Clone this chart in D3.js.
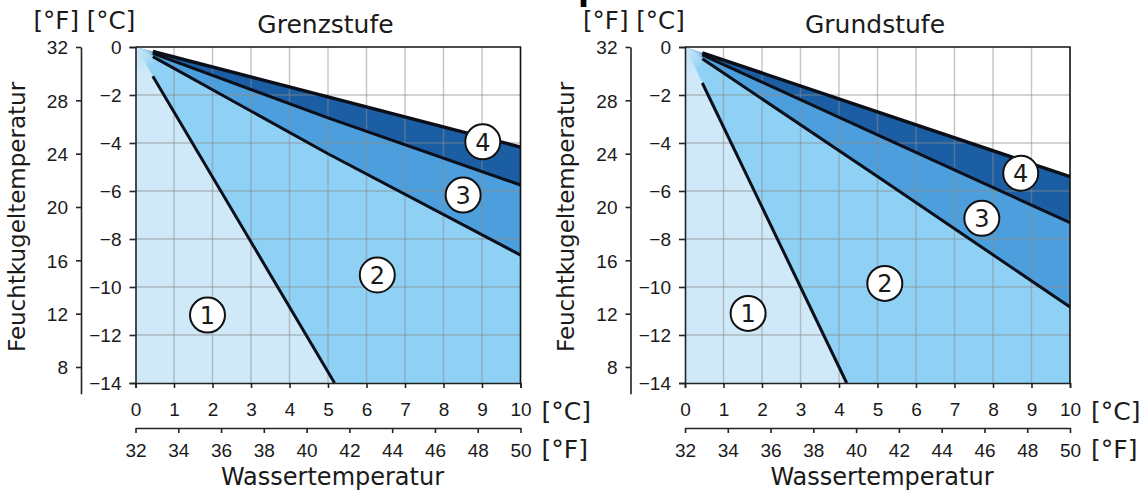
<!DOCTYPE html>
<html>
<head>
<meta charset="utf-8">
<script src="https://cdn.jsdelivr.net/npm/d3@7"></script>
<style>
  html, body { margin: 0; padding: 0; background: #fff; }
  svg { display: block; }
</style>
</head>
<body>
<svg id="chart" width="1139" height="492"></svg>
<script>
// ---------- data ----------
const panelTitles = ["Grenzstufe", "Grundstufe"];
const waterTicksC = [0, 1, 2, 3, 4, 5, 6, 7, 8, 9, 10];
const waterTicksF = [32, 34, 36, 38, 40, 42, 44, 46, 48, 50];
const wetTicksC = [0, -2, -4, -6, -8, -10, -12, -14];
const wetTicksF = [32, 28, 24, 20, 16, 12, 8];
const zoneLabels = ["1", "2", "3", "4"];

// boundary curves sampled at these water temperatures (°C)
const boundaryWater = [0, 5, 10];
// Grenzstufe
const grenzLine1End = 5.17;                 // water °C where boundary 1|2 hits -14 °C
const grenzLine2 = [0, -4.45, -8.67];       // boundary 2|3
const grenzLine3 = [0, -2.95, -5.75];       // boundary 3|4
const grenzLine4 = [0, -2.08, -4.17];       // upper edge of zone 4
const grenzLabelX = [1.87, 6.28, 8.51, 9.02];
const grenzLabelY = [-11.17, -9.5, -6.17, -3.95];
// Grundstufe
const grundLine1End = 4.2;
const grundLine2 = [0, -5.4, -10.83];
const grundLine3 = [0, -3.66, -7.32];
const grundLine4 = [0, -2.7, -5.4];
const grundLabelX = [1.64, 5.19, 7.71, 8.72];
const grundLabelY = [-11.1, -9.85, -7.14, -5.26];

const lineStartC = 0.45; // black boundary lines begin at this water temperature

const panelsData = [
  { title: panelTitles[0], l1: grenzLine1End, l2: grenzLine2, l3: grenzLine3, l4: grenzLine4, lx: grenzLabelX, ly: grenzLabelY },
  { title: panelTitles[1], l1: grundLine1End, l2: grundLine2, l3: grundLine3, l4: grundLine4, lx: grundLabelX, ly: grundLabelY }
];

// ---------- layout ----------
const panelX0 = [135.5, 685];
const plotTop = 47, plotW = 385, plotH = 336;
const zoneColors = ["#cfe9f8", "#8fd0f5", "#4c9fdc", "#1c5ea4"];
const tickFont = "'Liberation Sans', Arial, sans-serif";
const labelFont = "'DejaVu Sans', Verdana, sans-serif";
const ink = "#1a1a1a";

const svg = d3.select("#chart");
const defs = svg.append("defs");
const grad = defs.append("radialGradient").attr("id", "apexFade")
  .attr("cx", 0.5).attr("cy", 0.5).attr("r", 0.5);
grad.append("stop").attr("offset", "0%").attr("stop-color", "#cde9f8").attr("stop-opacity", 1);
grad.append("stop").attr("offset", "55%").attr("stop-color", "#bfe3f7").attr("stop-opacity", 0.75);
grad.append("stop").attr("offset", "100%").attr("stop-color", "#bfe3f7").attr("stop-opacity", 0);

// cropped fragment of a heading above the chart
svg.append("text").attr("x", 578).attr("y", 0)
  .attr("font-family", labelFont).attr("font-weight", "bold").attr("font-size", 32)
  .attr("fill", "#000").text("p");

panelsData.forEach((p, i) => {
  const x0 = panelX0[i];
  const g = svg.append("g").attr("transform", `translate(${x0},${plotTop})`);
  const x = d3.scaleLinear().domain([0, 10]).range([0, plotW]);
  const y = d3.scaleLinear().domain([0, -14]).range([0, plotH]);
  const fToC = f => (f - 32) / 1.8;
  const yF = d3.scaleLinear().domain([32, 6]).range([y(fToC(32)), y(fToC(6))]);
  const xF = d3.scaleLinear().domain([32, 50]).range([x(fToC(32)), x(fToC(50))]);

  const clipId = "clip" + i;
  defs.append("clipPath").attr("id", clipId).append("rect")
    .attr("x", 0).attr("y", 0).attr("width", plotW).attr("height", plotH);

  const line = d3.line().x(d => x(d[0])).y(d => y(d[1]));
  const pts = arr => boundaryWater.map((w, k) => [w, arr[k]]);
  const rev = a => a.slice().reverse();
  const interp = (arr, w) => {
    const k = w <= boundaryWater[1] ? 0 : 1;
    const t = (w - boundaryWater[k]) / (boundaryWater[k + 1] - boundaryWater[k]);
    return arr[k] + t * (arr[k + 1] - arr[k]);
  };

  // zones
  const z = g.append("g").attr("clip-path", `url(#${clipId})`);
  const zone1 = [[0, 0], [p.l1, -14], [0, -14]];
  const zone2 = [[0, 0], [p.l1, -14], [10, -14], ...rev(pts(p.l2))];
  const zone3 = [...pts(p.l2), ...rev(pts(p.l3))];
  const zone4 = [...pts(p.l3), ...rev(pts(p.l4))];
  [zone1, zone2, zone3, zone4].forEach((poly, k) => {
    z.append("path").attr("d", line(poly) + "Z").attr("fill", zoneColors[k]);
  });
  // pale apex, limited to the coloured wedge
  const wedgeId = "wedge" + i;
  defs.append("clipPath").attr("id", wedgeId).append("path")
    .attr("d", line([[0, 0], ...pts(p.l4).slice(1), [10, -14], [0, -14]]) + "Z");
  z.append("g").attr("clip-path", `url(#${wedgeId})`)
    .append("circle").attr("cx", x(0)).attr("cy", y(0)).attr("r", 26)
    .attr("fill", "url(#apexFade)");

  // grid
  const grid = g.append("g").attr("stroke", "#8c8c8c").attr("stroke-opacity", 0.5).attr("stroke-width", 1.4);
  waterTicksC.filter(v => v > 0 && v < 10).forEach(v => {
    grid.append("line").attr("x1", x(v)).attr("x2", x(v)).attr("y1", 0).attr("y2", plotH);
  });
  wetTicksC.filter(v => v < 0 && v > -14).forEach(v => {
    grid.append("line").attr("x1", 0).attr("x2", plotW).attr("y1", y(v)).attr("y2", y(v));
  });

  // boundary lines
  const lines = g.append("g").attr("fill", "none").attr("stroke", "#0b0f1a").attr("stroke-linecap", "butt");
  lines.append("path").attr("stroke-width", 3)
    .attr("d", line([[lineStartC, -14 * lineStartC / p.l1], [p.l1, -14]]));
  [p.l2, p.l3, p.l4].forEach((arr, k) => {
    const d = [[lineStartC, interp(arr, lineStartC)], ...pts(arr).slice(1)];
    lines.append("path").attr("stroke-width", k === 2 ? 3.4 : 3).attr("d", line(d));
  });

  // frame top/right
  g.append("path").attr("d", `M0,0H${plotW}V${plotH}`).attr("fill", "none")
    .attr("stroke", "#111").attr("stroke-width", 1.6);

  // °C y axis
  const ay = g.append("g").call(d3.axisLeft(y).tickValues(wetTicksC).tickSize(6).tickPadding(8).tickFormat(d3.format("d")));
  // °C x axis
  const ax = g.append("g").attr("transform", `translate(0,${plotH})`)
    .call(d3.axisBottom(x).tickValues(waterTicksC).tickSize(5).tickPadding(15).tickFormat(d3.format("d")));
  // °F y axis
  const ayF = g.append("g").attr("transform", `translate(-54.5,0)`)
    .call(d3.axisLeft(yF).tickValues(wetTicksF).tickSize(5).tickPadding(8).tickSizeOuter(0));
  // °F x axis
  const axF = g.append("g").attr("transform", `translate(0,${plotH + 45})`)
    .call(d3.axisBottom(xF).tickValues(waterTicksF).tickSize(5).tickPadding(11).tickSizeOuter(0));

  [ay, ax, ayF, axF].forEach(a => {
    a.selectAll(".domain").attr("stroke", "#222").attr("stroke-width", 1.6);
    a.selectAll(".tick line").attr("stroke", "#222").attr("stroke-width", 1.6);
    a.selectAll("text").attr("font-family", tickFont).attr("font-size", 19).attr("fill", ink);
  });
  ay.selectAll("text").attr("dy", "0.36em");
  ayF.selectAll("text").attr("dy", "0.36em");

  // unit labels
  const unit = (tx, ty, s, size) => svg.append("text").attr("x", tx).attr("y", ty)
    .attr("font-family", labelFont).attr("font-size", size).attr("fill", ink).text(s);
  unit(x0 - 102, 29, "[°F] [°C]", 24.5);
  unit(x0 + plotW + 21, plotTop + plotH + 37, "[°C]", 25);
  unit(x0 + plotW + 21, plotTop + plotH + 75, "[°F]", 25);

  // titles
  svg.append("text").attr("x", x0 + 190).attr("y", 33).attr("text-anchor", "middle")
    .attr("font-family", labelFont).attr("font-size", 25).attr("fill", ink).text(p.title);
  svg.append("text").attr("x", x0 + 197).attr("y", 485).attr("text-anchor", "middle")
    .attr("font-family", labelFont).attr("font-size", 24).attr("fill", ink).text("Wassertemperatur");
  svg.append("text").attr("transform", `translate(${x0 - 111},217) rotate(-90)`).attr("text-anchor", "middle")
    .attr("font-family", labelFont).attr("font-size", 23).attr("fill", ink).text("Feuchtkugeltemperatur");

  // zone markers
  const m = g.append("g");
  zoneLabels.forEach((s, k) => {
    const cx = x(p.lx[k]), cy = y(p.ly[k]);
    m.append("circle").attr("cx", cx).attr("cy", cy).attr("r", 17.5)
      .attr("fill", "#fff").attr("stroke", "#111").attr("stroke-width", 2);
    m.append("text").attr("x", cx).attr("y", cy).attr("dy", "0.37em").attr("text-anchor", "middle")
      .attr("font-family", labelFont).attr("font-size", 24).attr("fill", ink).text(s);
  });
});
</script>
</body>
</html>
